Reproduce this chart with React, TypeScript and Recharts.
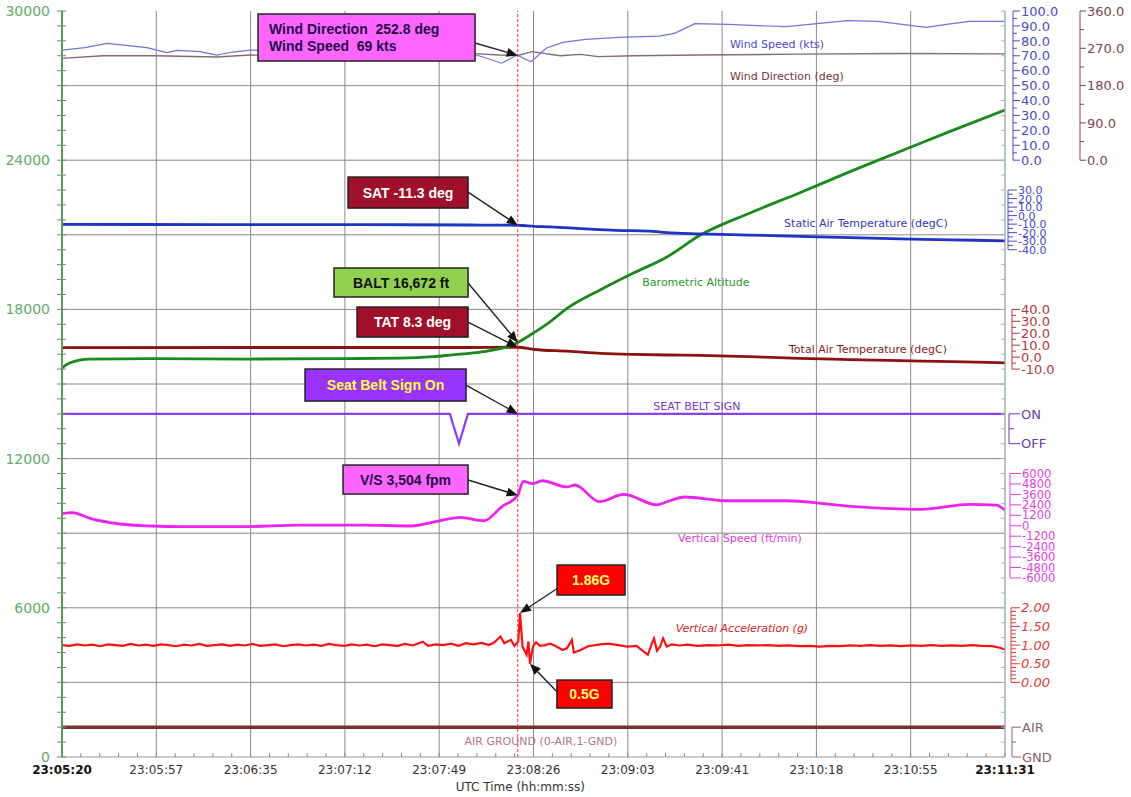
import React from 'react';
import { ComposedChart, Line, XAxis, YAxis, CartesianGrid, ReferenceLine, ReferenceDot } from 'recharts';

// ---------- layout ----------
const W = 1131;
const H = 797;
const M_TOP = 11;
const X_AXIS_H = 40;
const LEFT_W = 62;
const RIGHT_W = 126;
const PLOT_H = H - M_TOP - X_AXIS_H;
const Y_MAX = 30000;
const PX_PER_UNIT = PLOT_H / Y_MAX;
const FONT = 'DejaVu Sans';

// ---------- time axis ----------
const T_END = 371; // seconds from 23:05:20 to 23:11:31
const CURSOR_T = 179.3;
const X_LABELS = ['23:05:20', '23:05:57', '23:06:35', '23:07:12', '23:07:49', '23:08:26', '23:09:03', '23:09:41', '23:10:18', '23:10:55', '23:11:31'];
const X_MINOR_STEP = T_END / 50;
const X_TICKS = Array.from({ length: 51 }, (_, k) => k * X_MINOR_STEP);
const X_GRID = X_TICKS.filter((_, k) => k % 5 === 0 && k > 0);

// ---------- left axis ----------
const Y_LABELS = [0, 6000, 12000, 18000, 24000, 30000];
const Y_TICKS = Array.from({ length: 51 }, (_, k) => k * 600);
const Y_GRID = [3000, 6000, 9000, 12000, 15000, 18000, 21000, 24000, 27000];

// ---------- series data: [seconds, value] ----------
const windSpeed: [number, number][] = [
  [0, 73.8], [9, 75.5], [17.7, 78.3], [33.4, 75.4], [41.3, 72.1], [45.2, 73.6], [54.3, 72.8], [61, 70.5], [67, 72.5], [74, 73.8],
  [90, 73.2], [108, 73.6], [125, 72.5], [140, 71.5], [155, 70.5], [164, 70], [173, 65], [179, 70.5], [184.5, 66], [190.5, 75],
  [197, 79], [206, 81], [219, 82.3], [235, 83.2], [241, 85], [249, 91.5], [262, 91], [285, 89.5], [300, 92], [309, 93.6],
  [321, 93], [340, 89], [348, 91], [357, 93], [371, 93],
];
const windDirection: [number, number][] = [
  [0, 245.7], [16, 252.2], [37, 252.2], [61, 248.9], [74, 253.7], [100, 252], [140, 253], [160, 257.8], [172, 254], [179.3, 252.8],
  [185, 262], [196, 252.2], [204, 255.4], [211, 249.8], [225, 252.2], [251, 253.7], [290, 256], [330, 257.5], [371, 256.5],
];
const staticAirTemp: [number, number][] = [
  [0, -10.3], [60, -10.5], [120, -10.6], [160, -11.0], [179.3, -11.3], [186, -12.5], [192, -13.2], [204.5, -15.2], [218, -17.2],
  [231, -18.2], [238, -20], [251, -21.3], [270, -22.8], [290, -24.3], [310, -25.8], [330, -27.2], [350, -28.4], [371, -29.6],
];
const baroAltitude: [number, number][] = [
  [0, 15642], [3, 15843], [11, 16004], [35, 16024], [74, 16004], [113, 16024], [133, 16040], [146, 16100], [152.6, 16164],
  [165.6, 16300], [176.2, 16540], [179.3, 16672], [185.3, 17040], [192, 17500], [198.7, 18040], [211.7, 18780], [224.6, 19450],
  [238, 20110], [251, 20980], [270.7, 21880], [290.3, 22690], [310, 23540], [329.7, 24350], [349.4, 25160], [371, 26016],
];
const totalAirTemp: [number, number][] = [
  [0, 8.0], [80, 8.1], [160, 8.1], [179.3, 8.3], [186, 6.4], [199, 5.0], [212, 3.2], [225, 2.3], [238, 1.8], [251, 1.5],
  [270, 0.5], [290, -1.0], [310, -2.0], [330, -3.0], [350, -3.8], [371, -4.8],
];
const seatBelt: [number, number][] = [[0, 1], [152.6, 1], [156.2, 0], [159.7, 1], [371, 1]];
const verticalSpeed: [number, number][] = [
  [0, 1400], [4, 1500], [11, 850], [23, 200], [35, -30], [47, -110], [71, -110], [94, 80], [118, 80], [137.5, -30],
  [147, 460], [156.6, 960], [166, 575], [173, 2180], [179.3, 3504], [181.5, 5100], [185, 4830], [189, 5170], [198.7, 4460],
  [201.8, 4680], [211.5, 2760], [221, 3600], [234, 2400], [238, 2760], [245, 3300], [261.5, 2870], [285, 2870], [309, 2260],
  [338, 1890], [357, 2460], [367.5, 2380], [371, 1800],
];
const verticalAccel: [number, number][] = [
  [0, 1.0], [3, 0.98], [6, 1.02], [9, 0.99], [12, 1.01], [15, 0.97], [18, 1.02], [21, 1.0], [24, 0.98], [27, 1.03], [30, 0.99],
  [33, 1.01], [36, 0.98], [39, 1.02], [42, 1.0], [45, 0.97], [48, 1.01], [51, 0.99], [54, 1.03], [57, 0.98], [60, 1.0], [63, 1.02],
  [66, 0.98], [69, 1.01], [72, 0.99], [75, 1.03], [78, 0.98], [81, 1.0], [84, 1.02], [87, 0.97], [90, 1.0], [93, 1.02], [96, 0.99],
  [99, 1.01], [102, 0.98], [105, 1.03], [108, 1.0], [111, 0.98], [114, 1.02], [117, 0.99], [120, 1.01], [123, 0.97], [126, 1.02],
  [129, 1.0], [132, 0.98], [135, 1.03], [138, 0.99], [142, 1.09], [144, 0.98], [147, 1.02], [150, 1.0], [153, 1.04], [156, 0.98],
  [159, 1.05], [162, 1.02], [165, 1.06], [168, 1.0], [170, 1.07], [172.5, 1.23], [174, 1.05], [176.6, 1.14], [178, 0.98],
  [179.5, 1.1], [180.2, 1.86], [181.2, 0.96], [182.8, 0.74], [183.5, 1.1], [184.1, 0.5], [185.3, 0.96], [186.5, 1.08], [188, 0.98],
  [190, 1.0], [192, 1.04], [194, 0.98], [197, 0.87], [198.7, 0.92], [200.6, 1.14], [201.4, 0.8], [203.8, 0.86], [207, 0.97],
  [211.7, 1.02], [215, 1.04], [219, 1.0], [222.3, 0.96], [226, 0.98], [230.5, 0.74], [232.1, 1.05], [232.9, 1.18], [234.1, 0.85],
  [235.3, 0.96], [236.5, 1.18], [237.9, 0.96], [240, 1.02], [243, 0.99], [246, 1.01], [250, 0.98], [254, 1.0], [258, 0.99],
  [262, 1.01], [266, 0.98], [270, 1.0], [274, 0.99], [278, 1.0], [282, 0.98], [286, 0.99], [290, 0.97], [294, 0.98], [298, 0.96],
  [302, 0.98], [306, 0.97], [310, 0.99], [314, 0.98], [318, 1.0], [322, 0.98], [326, 0.99], [330, 0.97], [334, 0.99], [338, 0.98],
  [342, 1.0], [346, 0.98], [350, 0.99], [354, 0.98], [358, 1.0], [362, 0.98], [366, 0.97], [369, 0.93], [371, 0.88],
];
const airGround: [number, number][] = [[0, 0], [371, 0]];

// ---------- bands: each parameter shares the left 0..30000 scale ----------
type Band = { v0: number; v1: number; a0: number; a1: number };
const WS_BAND: Band = { v0: 0, v1: 100, a0: 24000, a1: 30000 };
const WD_BAND: Band = { v0: 0, v1: 360, a0: 24000, a1: 30000 };
const SAT_BAND: Band = { v0: -40, v1: 30, a0: 20400, a1: 22800 };
const TAT_BAND: Band = { v0: -10, v1: 40, a0: 15600, a1: 18000 };
const SB_BAND: Band = { v0: 0, v1: 1, a0: 12600, a1: 13800 };
const VS_BAND: Band = { v0: -6000, v1: 6000, a0: 7200, a1: 11400 };
const VA_BAND: Band = { v0: 0, v1: 2, a0: 3000, a1: 6000 };
const AG_BAND: Band = { v0: 1, v1: 0, a0: 0, a1: 1200 };
const ALT_BAND: Band = { v0: 0, v1: 30000, a0: 0, a1: 30000 };

const mapB = (b: Band, v: number) => b.a0 + ((v - b.v0) * (b.a1 - b.a0)) / (b.v1 - b.v0);
const toRows = (arr: [number, number][], b: Band) => arr.map(([t, v]) => ({ t, v: mapB(b, v) }));

// ---------- right mini-axes ----------
const WS_MAJOR = [0, 10, 20, 30, 40, 50, 60, 70, 80, 90, 100];
const WS_MINOR = [5, 15, 25, 35, 45, 55, 65, 75, 85, 95];
const WD_MAJOR = [0, 90, 180, 270, 360];
const WD_MINOR = [45, 135, 225, 315];
const SAT_MAJOR = [30, 20, 10, 0, -10, -20, -30, -40];
const SAT_MINOR = [25, 15, 5, -5, -15, -25, -35];
const TAT_MAJOR = [40, 30, 20, 10, 0, -10];
const TAT_MINOR = [35, 25, 15, 5, -5];
const SB_MAJOR = [1, 0];
const SB_LABELS = ['ON', 'OFF'];
const VS_MAJOR = [6000, 4800, 3600, 2400, 1200, 0, -1200, -2400, -3600, -4800, -6000];
const VA_MAJOR = [2, 1.5, 1, 0.5, 0];
const VA_MINOR = [1.9, 1.8, 1.7, 1.6, 1.4, 1.3, 1.2, 1.1, 0.9, 0.8, 0.7, 0.6, 0.4, 0.3, 0.2, 0.1];
const AG_MAJOR = [0, 1];
const AG_LABELS = ['AIR', 'GND'];

type AxisSpec = {
  band: Band; majors: number[]; minors: number[]; fmt: (v: number, i: number) => string;
  color: string; axisX: number; tickLen: number; minorLen: number; fontSize: number; italic?: boolean;
};
const RIGHT_AXES: AxisSpec[] = [
  { band: WS_BAND, majors: WS_MAJOR, minors: WS_MINOR, fmt: (v) => v.toFixed(1), color: '#4b4bc8', axisX: 8, tickLen: 7, minorLen: 4, fontSize: 13 },
  { band: WD_BAND, majors: WD_MAJOR, minors: WD_MINOR, fmt: (v) => v.toFixed(1), color: '#7a4848', axisX: 75, tickLen: 6, minorLen: 4, fontSize: 13 },
  { band: SAT_BAND, majors: SAT_MAJOR, minors: SAT_MINOR, fmt: (v) => v.toFixed(1), color: '#4848cc', axisX: 3, tickLen: 9, minorLen: 5, fontSize: 11 },
  { band: TAT_BAND, majors: TAT_MAJOR, minors: TAT_MINOR, fmt: (v) => v.toFixed(1), color: '#b03a3a', axisX: 7, tickLen: 8, minorLen: 4, fontSize: 13 },
  { band: SB_BAND, majors: SB_MAJOR, minors: [0.5], fmt: (_v, i) => SB_LABELS[i], color: '#6a3aa8', axisX: 4, tickLen: 11, minorLen: 5, fontSize: 13 },
  { band: VS_BAND, majors: VS_MAJOR, minors: [], fmt: (v) => String(v), color: '#e03ee0', axisX: 5, tickLen: 11, minorLen: 4, fontSize: 11.5 },
  { band: VA_BAND, majors: VA_MAJOR, minors: VA_MINOR, fmt: (v) => v.toFixed(2), color: '#e03a3a', axisX: 6, tickLen: 9, minorLen: 5, fontSize: 13, italic: true },
  { band: AG_BAND, majors: AG_MAJOR, minors: [0.5], fmt: (_v, i) => AG_LABELS[i], color: '#8a6070', axisX: 7, tickLen: 9, minorLen: 4, fontSize: 13 },
];

type Item = { kind: 'major' | 'minor' | 'edge'; spec?: AxisSpec; label?: string; seg?: number };
const rightItems = new Map<string, Item[]>();
const keyOf = (v: number) => v.toFixed(3);
const addItem = (a: number, it: Item) => {
  const k = keyOf(a);
  if (!rightItems.has(k)) rightItems.set(k, []);
  rightItems.get(k)!.push(it);
};
RIGHT_AXES.forEach((s) => {
  const top = Math.max(s.band.a0, s.band.a1);
  const bottom = Math.min(s.band.a0, s.band.a1);
  s.majors.forEach((v, i) => {
    const a = mapB(s.band, v);
    addItem(a, { kind: 'major', spec: s, label: s.fmt(v, i), seg: Math.abs(a - top) < 1e-6 ? (top - bottom) * PX_PER_UNIT : 0 });
  });
  s.minors.forEach((v) => addItem(mapB(s.band, v), { kind: 'minor', spec: s }));
});
Y_TICKS.forEach((a) => addItem(a, { kind: 'edge' }));
const RIGHT_TICKS = Array.from(rightItems.keys()).map(Number);

// ---------- in-plot labels ----------
const TAGS = [
  { text: 'Wind Speed (kts)', t: 281.3, y: 28670, color: '#4a4ad0' },
  { text: 'Wind Direction (deg)', t: 285.2, y: 27383, color: '#7a3434' },
  { text: 'Static Air Temperature (degC)', t: 316.3, y: 21472, color: '#3535b8' },
  { text: 'Barometric Altitude', t: 249.4, y: 19100, color: '#2a962a' },
  { text: 'Total Air Temperature (degC)', t: 317.1, y: 16406, color: '#8b1a1a' },
  { text: 'SEAT BELT SIGN', t: 249.8, y: 14114, color: '#7a38d0' },
  { text: 'Vertical Speed (ft/min)', t: 266.7, y: 8806, color: '#dd3add' },
  { text: 'Vertical Acceleration (g)', t: 267.5, y: 5187, color: '#e02020', italic: true },
  { text: 'AIR GROUND (0-AIR,1-GND)', t: 188.4, y: 643, color: '#b47585' },
];

// ---------- callouts ----------
type Callout = {
  lines: string[]; t: number; y: number; box: [number, number, number, number]; from: [number, number];
  fill: string; color: string; align: 'left' | 'center';
};
const CALLOUTS: Callout[] = [
  { lines: ['Wind Direction  252.8 deg', 'Wind Speed  69 kts'], t: CURSOR_T, y: mapB(WD_BAND, 252.8), box: [-259.7, -41.4, 217, 47], from: [-42.7, -12.4], fill: '#ff66ff', color: '#1e0e48', align: 'left' },
  { lines: ['SAT -11.3 deg'], t: CURSOR_T, y: mapB(SAT_BAND, -11.3), box: [-169.7, -48.2, 120, 31], from: [-49.7, -33.2], fill: '#a0102a', color: '#ffffff', align: 'center' },
  { lines: ['BALT 16,672 ft'], t: CURSOR_T, y: mapB(ALT_BAND, 16672), box: [-183.7, -74.4, 134, 29], from: [-49.7, -59.4], fill: '#92d050', color: '#111111', align: 'center' },
  { lines: ['TAT 8.3 deg'], t: CURSOR_T, y: mapB(TAT_BAND, 8.3), box: [-160.7, -40.2, 111, 30], from: [-49.7, -25.2], fill: '#a0102a', color: '#ffffff', align: 'center' },
  { lines: ['Seat Belt Sign On'], t: CURSOR_T, y: mapB(SB_BAND, 1), box: [-212.7, -44.8, 161, 32], from: [-51.7, -28.8], fill: '#9933ff', color: '#ffff33', align: 'center' },
  { lines: ['V/S 3,504 fpm'], t: CURSOR_T, y: mapB(VS_BAND, 3504), box: [-174.7, -30.2, 125, 29], from: [-49.7, -15.2], fill: '#ff66ff', color: '#1e0e48', align: 'center' },
  { lines: ['1.86G'], t: 180.2, y: mapB(VA_BAND, 1.86), box: [37, -48, 68, 30], from: [38, -25], fill: '#ff0000', color: '#ffff66', align: 'center' },
  { lines: ['0.5G'], t: 184.1, y: mapB(VA_BAND, 0.5), box: [27, 16.3, 55, 28], from: [28, 29], fill: '#ff0000', color: '#ffff66', align: 'center' },
];

// ---------- renderers ----------
const LeftTick = (props: any) => {
  const { x, y, payload } = props;
  const v = Number(payload.value);
  return (
    <g>
      <line x1={x - 5} x2={x + 4} y1={y} y2={y} stroke="#5a9a5a" strokeWidth={1} />
      {Y_LABELS.includes(v) && (
        <text x={x - 12} y={y} dy="0.36em" textAnchor="end" fill="#62ad62" fontSize={14} fontFamily={FONT}>{v}</text>
      )}
    </g>
  );
};

const BottomTick = (props: any) => {
  const { x, y, payload } = props;
  const k = Math.round(Number(payload.value) / X_MINOR_STEP);
  const major = k % 5 === 0;
  const edge = k === 0 || k === 50;
  return (
    <g>
      <line x1={x} x2={x} y1={y} y2={y - 4} stroke="#8a8a8a" />
      {major && (
        <text x={x} y={y + 16.5} textAnchor="middle" fill={edge ? '#111' : '#333'} fontWeight={edge ? 'bold' : 'normal'} fontSize={12} fontFamily={FONT}>
          {X_LABELS[k / 5]}
        </text>
      )}
    </g>
  );
};

const RightTick = (props: any) => {
  const { x, y, payload } = props;
  const items = rightItems.get(keyOf(Number(payload.value))) || [];
  return (
    <g>
      {items.map((it, i) => {
        if (it.kind === 'edge') return <line key={i} x1={x - 4} x2={x} y1={y} y2={y} stroke="#9fb9b9" />;
        const s = it.spec!;
        const ax = x + s.axisX;
        const len = it.kind === 'major' ? s.tickLen : s.minorLen;
        return (
          <g key={i}>
            {it.seg ? <line x1={ax} x2={ax} y1={y} y2={y + it.seg} stroke={s.color} strokeWidth={1} /> : null}
            <line x1={ax} x2={ax + len} y1={y} y2={y} stroke={s.color} strokeWidth={1} />
            {it.label != null && (
              <text x={ax + s.tickLen + 1} y={y} dy="0.36em" fill={s.color} fontSize={s.fontSize} fontStyle={s.italic ? 'italic' : 'normal'} fontFamily={FONT}>
                {it.label}
              </text>
            )}
          </g>
        );
      })}
    </g>
  );
};

const AxisTitle = (props: any) => {
  const vb = props.viewBox;
  if (!vb) return null;
  return (
    <text x={vb.x + vb.width * 0.486} y={vb.y + 34} textAnchor="middle" fill="#333" fontSize={12} fontFamily={FONT}>
      UTC Time (hh:mm:ss)
    </text>
  );
};

const makeTag = (tag: (typeof TAGS)[number]) => (p: any) => (
  <text x={p.cx} y={p.cy} dy="0.35em" textAnchor="middle" fill={tag.color} fontSize={11} fontStyle={tag.italic ? 'italic' : 'normal'} fontFamily={FONT}>
    {tag.text}
  </text>
);

const makeCallout = (c: Callout) => (p: any) => {
  const cx = p.cx;
  const cy = p.cy;
  const [bx, by, bw, bh] = c.box;
  const x0 = cx + bx;
  const y0 = cy + by;
  const sx = cx + c.from[0];
  const sy = cy + c.from[1];
  const ang = Math.atan2(cy - sy, cx - sx);
  const L = 11;
  const hw = 4.5;
  const hx = cx - L * Math.cos(ang);
  const hy = cy - L * Math.sin(ang);
  const pts = `${cx},${cy} ${hx + hw * Math.sin(ang)},${hy - hw * Math.cos(ang)} ${hx - hw * Math.sin(ang)},${hy + hw * Math.cos(ang)}`;
  const n = c.lines.length;
  return (
    <g>
      <line x1={sx} y1={sy} x2={hx} y2={hy} stroke="#222" strokeWidth={1.4} />
      <polygon points={pts} fill="#111" />
      <rect x={x0} y={y0} width={bw} height={bh} fill={c.fill} stroke="#222" strokeWidth={1.5} />
      {c.lines.map((ln, i) => (
        <text
          key={i}
          x={c.align === 'left' ? x0 + 11 : x0 + bw / 2}
          y={y0 + (bh * (i + 0.5)) / n + (n > 1 ? (i === 0 ? 3 : -3) : 0)}
          dy="0.36em"
          textAnchor={c.align === 'left' ? 'start' : 'middle'}
          fill={c.color}
          fontSize={14}
          fontWeight="bold"
          fontFamily="Liberation Sans"
          style={{ whiteSpace: 'pre' }}
        >
          {ln}
        </text>
      ))}
    </g>
  );
};

const SERIES = [
  { key: 'ag', rows: toRows(airGround, AG_BAND), color: '#7a3030', w: 3.5, curve: 'linear' },
  { key: 'va', rows: toRows(verticalAccel, VA_BAND), color: '#ff1010', w: 2.2, curve: 'linear' },
  { key: 'vs', rows: toRows(verticalSpeed, VS_BAND), color: '#ee22ee', w: 2.8, curve: 'monotone' },
  { key: 'sb', rows: toRows(seatBelt, SB_BAND), color: '#8a3ef0', w: 2.2, curve: 'linear' },
  { key: 'tat', rows: toRows(totalAirTemp, TAT_BAND), color: '#8b1212', w: 2.8, curve: 'monotone' },
  { key: 'alt', rows: toRows(baroAltitude, ALT_BAND), color: '#1a8a1a', w: 2.8, curve: 'monotone' },
  { key: 'sat', rows: toRows(staticAirTemp, SAT_BAND), color: '#1f33c4', w: 2.8, curve: 'monotone' },
  { key: 'wd', rows: toRows(windDirection, WD_BAND), color: '#8a6a6a', w: 1.4, curve: 'linear' },
  { key: 'ws', rows: toRows(windSpeed, WS_BAND), color: '#7272e0', w: 1.2, curve: 'linear' },
];

export default function App() {
  return (
    <div style={{ position: 'absolute', left: 0, top: 0, width: W, height: H, background: '#fff' }}>
      <ComposedChart width={W} height={H} margin={{ top: M_TOP, right: 0, bottom: 0, left: 0 }} style={{ fontFamily: FONT }}>
        <CartesianGrid xAxisId="B" yAxisId="L" horizontalValues={Y_GRID} verticalValues={X_GRID} stroke="#8a8a8a" strokeWidth={1} />
        <XAxis
          xAxisId="B"
          dataKey="t"
          type="number"
          domain={[0, T_END]}
          allowDataOverflow
          ticks={X_TICKS}
          interval={0}
          height={X_AXIS_H}
          tickSize={0}
          tickMargin={0}
          tickLine={false}
          axisLine={{ stroke: '#9a9a9a' }}
          tick={BottomTick}
          label={<AxisTitle />}
        />
        <XAxis
          xAxisId="T"
          orientation="top"
          type="number"
          domain={[0, T_END]}
          allowDataOverflow
          ticks={X_TICKS}
          interval={0}
          height={0}
          mirror
          tickSize={4}
          tick={false}
          tickLine={{ stroke: '#9a9a9a' }}
          axisLine={{ stroke: '#9a9a9a' }}
        />
        <YAxis
          yAxisId="L"
          orientation="left"
          type="number"
          domain={[0, Y_MAX]}
          allowDataOverflow
          ticks={Y_TICKS}
          interval={0}
          width={LEFT_W}
          tickSize={0}
          tickMargin={0}
          tickLine={false}
          axisLine={{ stroke: '#5a9a5a', strokeWidth: 2 }}
          tick={LeftTick}
        />
        <YAxis
          yAxisId="R"
          orientation="right"
          type="number"
          domain={[0, Y_MAX]}
          allowDataOverflow
          ticks={RIGHT_TICKS}
          interval={0}
          width={RIGHT_W}
          tickSize={0}
          tickMargin={0}
          tickLine={false}
          axisLine={{ stroke: '#a6c4c4' }}
          tick={RightTick}
        />
        {SERIES.map((s) => (
          <Line
            key={s.key}
            xAxisId="B"
            yAxisId="L"
            data={s.rows}
            dataKey="v"
            type={s.curve as any}
            stroke={s.color}
            strokeWidth={s.w}
            dot={false}
            activeDot={false}
            isAnimationActive={false}
          />
        ))}
        <ReferenceLine xAxisId="B" yAxisId="L" x={CURSOR_T} stroke="#ff2a2a" strokeDasharray="3 2" strokeWidth={1} />
        {TAGS.map((tg) => (
          <ReferenceDot key={tg.text} xAxisId="B" yAxisId="L" x={tg.t} y={tg.y} r={1} shape={makeTag(tg)} />
        ))}
        {CALLOUTS.map((c) => (
          <ReferenceDot key={c.lines[0]} xAxisId="B" yAxisId="L" x={c.t} y={c.y} r={1} shape={makeCallout(c)} />
        ))}
      </ComposedChart>
    </div>
  );
}
